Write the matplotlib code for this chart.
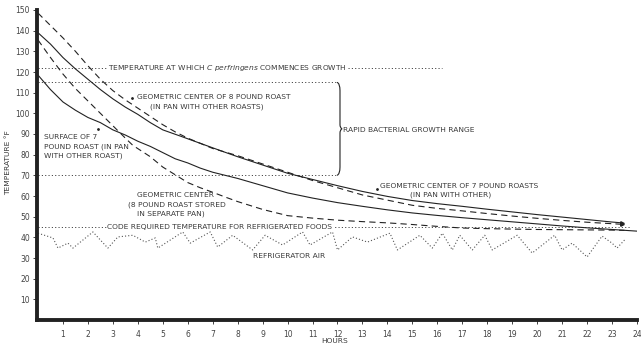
import matplotlib
matplotlib.use("Agg")
import matplotlib.pyplot as plt
from matplotlib.path import Path
from matplotlib.patches import PathPatch

# cooling curves, hours after removal from the oven vs temperature (F)
center7_hours = [0, 0.5, 1, 1.5, 2, 2.5, 3, 3.5, 4, 4.5, 5, 5.7, 6.5, 7.3, 8, 9, 10, 11,
                 12, 13, 14, 15, 16, 17, 18, 19, 20, 21, 22, 23, 23.4]
center7_temps = [139, 133.5, 127, 121.5, 116.5, 111.5, 107, 103, 99.5, 95.5, 92, 89, 85.5,
                 82, 79, 75, 71, 68, 65, 62.2, 59.8, 57.8, 56.3, 55, 53.6, 52.3, 51, 49.8,
                 48.6, 47.4, 47]

center8_pan_hours = [0, 0.5, 1, 1.5, 2, 2.5, 3, 3.5, 4, 4.5, 5, 5.5, 6, 6.5, 7, 8, 9, 10, 11,
                     12, 13, 14, 15, 16, 17, 18, 19, 20, 21, 22, 23, 23.4]
center8_pan_temps = [148.5, 142.5, 136.5, 130, 123, 116.5, 111, 106.5, 102.5, 98.5, 94.5, 91,
                     88, 85.5, 83, 79.5, 75.5, 71.5, 67.5, 64, 60.5, 58, 55.5, 54, 52.8, 51.5,
                     50.3, 49.2, 48.2, 47.3, 46.6, 46.3]

center8_sep_hours = [0, 0.5, 1, 1.5, 2, 2.5, 3, 3.5, 3.8, 4.5, 5, 5.4, 6, 6.5, 7, 7.5, 8, 9,
                     10, 11, 12, 13, 14, 15, 16, 17, 18, 19, 20, 21, 22, 23, 23.5]
center8_sep_temps = [135.5, 127, 119, 112, 106, 100, 94, 88, 84.5, 79, 74, 71, 66.5, 64, 61.8,
                     59.5, 57.3, 53.5, 50.5, 49.3, 48.3, 47.6, 47, 46.2, 45.3, 44.5, 44.2, 44,
                     43.8, 43.7, 43.6, 43.5, 43.4]

surface7_hours = [0, 0.5, 1, 1.5, 2, 2.5, 3, 3.5, 4, 4.5, 5, 5.5, 6, 6.5, 7, 7.5, 8, 9, 10,
                  11, 12, 13, 14, 15, 16, 17, 18, 19, 20, 21, 22, 23, 24]
surface7_temps = [118.5, 111.5, 105.5, 101.5, 98, 95.5, 92, 89.5, 86.5, 84, 81, 78, 76, 73.5,
                  71.5, 70, 68.5, 65, 61.5, 59, 56.8, 55, 53.3, 51.8, 50.6, 49.5, 48.5, 47.5,
                  46.5, 45.5, 44.6, 43.8, 43]

fridge_hours = [0, 0.6, 0.8, 1.2, 1.4, 2.2, 2.8, 3.2, 3.8, 4.3, 4.7, 4.8, 5.8, 6.1, 6.9, 7.2,
                7.8, 8.6, 9.1, 9.8, 10.6, 10.9, 11.8, 12.0, 12.6, 13.2, 14.1, 14.4, 15.3, 15.8,
                16.2, 16.6, 16.9, 17.4, 17.9, 18.2, 19.2, 19.8, 20.7, 21.0, 21.4, 22.0, 22.6,
                23.0, 23.2, 23.5]
fridge_temps = [42, 39.7, 34.8, 37.2, 34.8, 42.6, 34.8, 40.2, 41, 37.7, 39.7, 34.8, 42.6, 37.2,
                42.6, 35.3, 41, 33.9, 41, 36.3, 42.6, 36.3, 42.6, 33.9, 40.2, 37.7, 42, 33.9, 41,
                34.8, 42, 33.9, 41, 33.9, 41, 33.9, 41, 32.4, 41, 33.9, 37.2, 30.5, 40.6, 37.2,
                34.8, 38.7]

perfringens_temp = 122
rapid_top, rapid_bottom = 115, 70
code_temp = 45

x_ticks = list(range(1, 25))
y_ticks = list(range(10, 151, 10))

INK = "#222222"
TXT = "#3a3a3a"
FS = 5.4

plt.rcParams["lines.scale_dashes"] = False
plt.rcParams["font.family"] = "DejaVu Sans"

fig = plt.figure(figsize=(6.41, 3.48), dpi=100)
ax = fig.add_axes([37 / 641, 28 / 348, 600 / 641, 310 / 348])
ax.set_xlim(-0.04, 24)
ax.set_ylim(0, 150)

dotted = (0, (0.8, 1.6))
# reference lines
ax.plot([0, 16.2], [perfringens_temp] * 2, color=INK, lw=0.6, ls=dotted)
ax.plot([0, 12.0], [rapid_top] * 2, color=INK, lw=0.6, ls=dotted)
ax.plot([0, 12.0], [rapid_bottom] * 2, color=INK, lw=0.6, ls=dotted)
ax.plot([0, 23.7], [code_temp] * 2, color=INK, lw=0.6, ls=dotted)

# roast curves
dash = (0, (4.5, 3))
ax.plot(center7_hours, center7_temps, color=INK, lw=0.8)
ax.plot(center8_pan_hours, center8_pan_temps, color=INK, lw=0.8, ls=dash)
ax.plot(center8_sep_hours, center8_sep_temps, color=INK, lw=0.8, ls=dash)
ax.plot(surface7_hours, surface7_temps, color=INK, lw=0.8)
ax.plot(fridge_hours, fridge_temps, color="#555555", lw=0.8, ls=(0, (0.8, 1.5)))
ax.plot([center7_hours[-1], center8_pan_hours[-1]],
        [center7_temps[-1], center8_pan_temps[-1]], ls="none",
        marker=">", ms=2.5, color=INK)

# brace for the rapid growth range
bx, bw = 11.98, 0.2
mid = (rapid_top + rapid_bottom) / 2
verts = [(bx, rapid_top), (bx + bw * 0.6, rapid_top - 0.5), (bx + bw * 0.6, rapid_top - 4),
         (bx + bw * 0.6, mid + 2), (bx + bw * 0.6, mid + 0.5), (bx + bw, mid),
         (bx + bw * 0.6, mid - 0.5), (bx + bw * 0.6, mid - 2),
         (bx + bw * 0.6, rapid_bottom + 4), (bx + bw * 0.6, rapid_bottom + 0.5),
         (bx, rapid_bottom)]
codes = [Path.MOVETO, Path.CURVE3, Path.CURVE3, Path.LINETO, Path.CURVE3, Path.CURVE3,
         Path.CURVE3, Path.CURVE3, Path.LINETO, Path.CURVE3, Path.CURVE3]
ax.add_patch(PathPatch(Path(verts, codes), fc="none", ec=INK, lw=0.8))

white = dict(facecolor="white", edgecolor="none", pad=0.6)
ax.text(2.8, perfringens_temp,
        r"TEMPERATURE AT WHICH $\it{C\ perfringens}$ COMMENCES GROWTH",
        fontsize=FS, color=TXT, va="center", ha="left", bbox=white)
ax.text(2.78, code_temp, "CODE REQUIRED TEMPERATURE FOR REFRIGERATED FOODS",
        fontsize=FS, color=TXT, va="center", ha="left", bbox=white)
ax.text(12.22, 92, "RAPID BACTERIAL GROWTH RANGE", fontsize=FS, color=TXT,
        va="center", ha="left")

ax.text(3.97, 107.9, "GEOMETRIC CENTER OF 8 POUND ROAST", fontsize=FS, color=TXT, va="center")
ax.text(4.5, 103.1, "(IN PAN WITH OTHER ROASTS)", fontsize=FS, color=TXT, va="center")
ax.plot([3.78], [107.5], marker=".", ms=2, color=INK)

ax.text(0.24, 88.5, "SURFACE OF 7", fontsize=FS, color=TXT, va="center")
ax.text(0.24, 83.7, "POUND ROAST (IN PAN", fontsize=FS, color=TXT, va="center")
ax.text(0.24, 79.4, "WITH OTHER ROAST)", fontsize=FS, color=TXT, va="center")
ax.plot([2.4], [92.5], marker=".", ms=2, color=INK)

ax.text(3.97, 60.5, "GEOMETRIC CENTER", fontsize=FS, color=TXT, va="center")
ax.text(3.6, 56, "(8 POUND ROAST STORED", fontsize=FS, color=TXT, va="center")
ax.text(3.97, 51.5, "IN SEPARATE PAN)", fontsize=FS, color=TXT, va="center")

ax.text(13.7, 64.8, "GEOMETRIC CENTER OF 7 POUND ROASTS", fontsize=FS, color=TXT, va="center")
ax.text(14.9, 60.5, "(IN PAN WITH OTHER)", fontsize=FS, color=TXT, va="center")
ax.plot([13.58], [63.5], marker=".", ms=2, color=INK)

ax.text(8.6, 31, "REFRIGERATOR AIR", fontsize=FS, color=TXT, va="center")

for side in ("top", "right"):
    ax.spines[side].set_visible(False)
for side in ("left", "bottom"):
    ax.spines[side].set_linewidth(2.8)
    ax.spines[side].set_color(INK)

ax.set_xticks(x_ticks)
ax.set_yticks(y_ticks)
ax.tick_params(axis="both", length=3, width=0.6, color=INK, labelsize=5.5,
               labelcolor="#444444", pad=2)
ax.tick_params(axis="x", pad=4)

fig.text(8 / 641, 1 - 163 / 348, "TEMPERATURE °F", rotation=90, fontsize=FS,
         color=TXT, ha="center", va="center")
fig.text(335 / 641, 1 - 341 / 348, "HOURS", fontsize=FS, color=TXT,
         ha="center", va="center")

fig.savefig("out.png", dpi=100, facecolor="white")
